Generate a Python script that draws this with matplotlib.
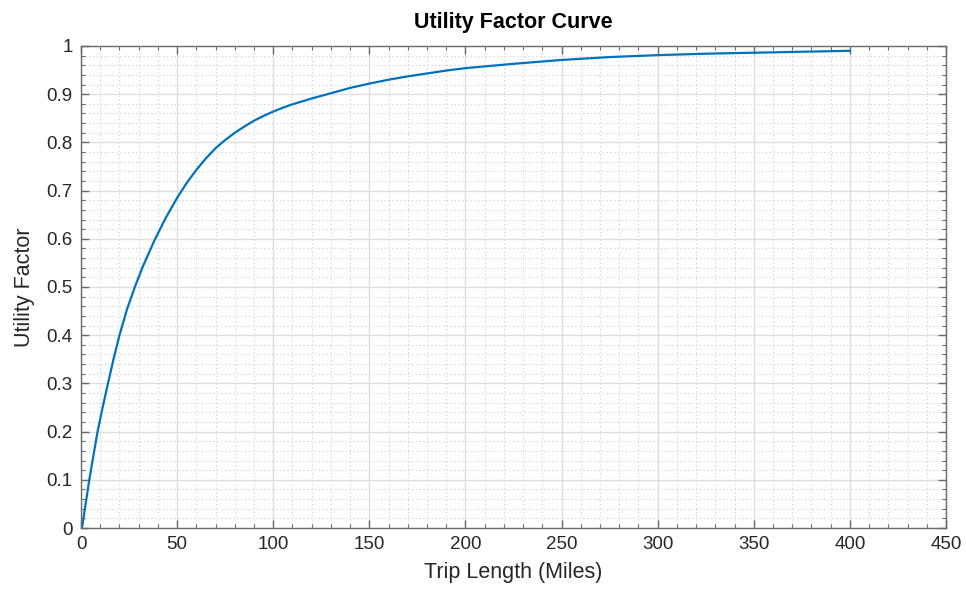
import matplotlib
matplotlib.use("Agg")
import matplotlib.pyplot as plt
from matplotlib.ticker import MultipleLocator

# Werte
trip_miles = [0.5, 2, 4.3, 6, 8.6, 11, 14, 17, 20, 24, 28, 32, 38, 44, 50,
              55, 60, 65, 70, 75, 80, 85, 90, 95, 100, 105, 110, 120, 130,
              140, 150, 160, 170, 180, 190, 200, 225, 250, 275, 300, 325,
              350, 375, 400]
utility = [0.0, 0.04, 0.10, 0.14, 0.20, 0.246, 0.30, 0.352, 0.40, 0.455,
           0.50, 0.541, 0.595, 0.643, 0.685, 0.716, 0.743, 0.767, 0.788,
           0.805, 0.820, 0.833, 0.845, 0.855, 0.864, 0.872, 0.879, 0.891,
           0.902, 0.913, 0.922, 0.930, 0.937, 0.943, 0.949, 0.954, 0.963,
           0.971, 0.977, 0.981, 0.984, 0.986, 0.988, 0.990]

plt.rcParams['font.family'] = ['Liberation Sans', 'DejaVu Sans']

fig = plt.figure(figsize=(9.66, 5.94), dpi=100)
ax = fig.add_axes([0.0839, 0.1111, 0.8954, 0.8115])

ax.plot(trip_miles, utility, color='#0072BD', linewidth=1.6)

ax.set_xlim(0, 450)
ax.set_ylim(0, 1)
ax.xaxis.set_major_locator(MultipleLocator(50))
ax.xaxis.set_minor_locator(MultipleLocator(10))
ax.yaxis.set_minor_locator(MultipleLocator(0.02))
ax.set_yticks([i / 10 for i in range(11)])
ax.set_yticklabels(['0', '0.1', '0.2', '0.3', '0.4', '0.5', '0.6', '0.7', '0.8', '0.9', '1'])

#grid im MATLAB-Stil
ax.grid(True, which='major', color='#dedede', linewidth=1.0, linestyle='-')
ax.grid(True, which='minor', color='#cccccc', linewidth=0.8, linestyle=(0, (1, 2.5)))
ax.set_axisbelow(True)

for s in ax.spines.values():
    s.set_color('#6a6a6a')
    s.set_linewidth(1.0)

ax.tick_params(which='both', direction='in', top=True, right=True, colors='#6a6a6a',
               labelcolor='#262626', labelsize=13.5)
ax.tick_params(which='major', length=6, width=1.0, pad=6)
ax.tick_params(which='minor', length=3, width=0.8)

ax.set_xlabel('Trip Length (Miles)', fontsize=15.5, color='#262626', labelpad=6)
ax.set_ylabel('Utility Factor', fontsize=15.5, color='#262626', labelpad=8)
ax.set_title('Utility Factor Curve', fontsize=15.5, fontweight='bold', pad=13)

fig.savefig('out.png', dpi=100)
